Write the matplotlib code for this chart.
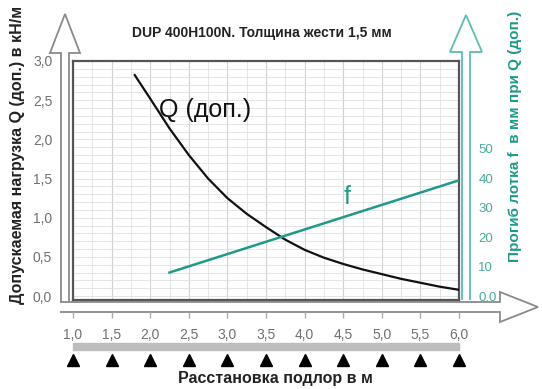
import numpy as np
import matplotlib.pyplot as plt
from matplotlib.patches import Polygon, Rectangle
from matplotlib.ticker import MultipleLocator

plt.rcParams['font.family'] = ['Liberation Sans', 'DejaVu Sans']

# data
span = [1.8, 2.0, 2.25, 2.5, 2.75, 3.0, 3.25, 3.5, 3.75, 4.0, 4.25, 4.5, 4.75,
        5.0, 5.25, 5.5, 5.75, 6.0]
q_load = [2.82, 2.52, 2.14, 1.80, 1.50, 1.25, 1.05, 0.88, 0.72, 0.59, 0.49, 0.41, 0.34,
          0.28, 0.22, 0.17, 0.12, 0.08]
f_span = [2.25, 6.0]
f_defl = [8.0, 39.3]

x_ticks = [1.0, 1.5, 2.0, 2.5, 3.0, 3.5, 4.0, 4.5, 5.0, 5.5, 6.0]
x_labels = ['1,0', '1,5', '2,0', '2,5', '3,0', '3,5', '4,0', '4,5', '5,0', '5,5', '6,0']
q_ticks = [0.0, 0.5, 1.0, 1.5, 2.0, 2.5, 3.0]
q_labels = ['0,0', '0,5', '1,0', '1,5', '2,0', '2,5', '3,0']
f_ticks = [0, 10, 20, 30, 40, 50]
f_labels = ['0,0', '10', '20', '30', '40', '50']

teal = '#1f9a88'
teal_light = '#5cbdb0'
W, H = 542, 389

fig = plt.figure(figsize=(W / 100, H / 100), dpi=100)

# overlay in pixel coordinates for the hollow arrows
ov = fig.add_axes([0, 0, 1, 1], zorder=0)
ov.set_xlim(0, W)
ov.set_ylim(H, 0)
ov.axis('off')

def arrow_up(cx, top, bottom, shaft, head, head_base, col):
    pts = [(cx - shaft, bottom), (cx - shaft, head_base), (cx - head, head_base),
           (cx, top), (cx + head, head_base), (cx + shaft, head_base), (cx + shaft, bottom)]
    ov.add_patch(Polygon(pts, closed=False, fill=False, edgecolor=col, lw=1.3))

arrow_up(65, 14, 302, 4, 15, 53, '#8a8a8a')
arrow_up(466, 15, 300, 4, 16, 52, teal_light)
hx = [(60, 302), (500, 302), (500, 292), (538, 307), (500, 322), (500, 312), (60, 312)]
ov.add_patch(Polygon(hx, closed=False, fill=False, edgecolor='#8a8a8a', lw=1.3))

# main plot box
ax = fig.add_axes([73 / W, 1 - 300 / H, (459 - 73) / W, 239 / H], zorder=2)
ax.set_facecolor('white')
ax.set_xlim(1.0, 6.0)
ax.set_ylim(-0.05, 3.0)
ax.xaxis.set_minor_locator(MultipleLocator(0.25))
ax.yaxis.set_minor_locator(MultipleLocator(0.1))
ax.grid(which='major', axis='x', color='#d2d2d2', lw=0.8)
ax.grid(which='minor', color='#e0e0e0', lw=0.6)
ax.grid(which='major', axis='y', color='#e0e0e0', lw=0.6)
ax.set_axisbelow(True)
for s in ax.spines.values():
    s.set_color('#555555')
    s.set_linewidth(1.6)

ax.plot(span, q_load, color='#111111', lw=1.6, zorder=3)
ax.text(2.12, 2.38, 'Q (доп.)', fontsize=18, color='#111111', va='center')

ax.set_xticks(x_ticks)
ax.set_xticklabels(x_labels)
ax.set_yticks(q_ticks)
ax.set_yticklabels(q_labels)
ax.tick_params(axis='x', which='both', length=0, pad=20, labelsize=10, labelcolor='#707070')
ax.tick_params(axis='y', which='both', length=0, pad=15, labelsize=10, labelcolor='#707070')

# small tick marks, grey bar and support triangles below the axis
ax.vlines(x_ticks, -0.075, -0.05, transform=ax.get_xaxis_transform(), color='#aaaaaa',
          lw=1, clip_on=False)
ax.add_patch(Rectangle((x_ticks[0], -0.21), x_ticks[-1] - x_ticks[0], 0.03,
                       transform=ax.get_xaxis_transform(), color='#bdbdbd', clip_on=False))
ax.plot(x_ticks, [-0.25] * len(x_ticks), '^', color='black', ms=8,
        transform=ax.get_xaxis_transform(), clip_on=False)

# right axis: deflection f
ax2 = ax.twinx()
ax2.set_ylim(-0.05 * 26.6, 3.0 * 26.6)
for s in ax2.spines.values():
    s.set_visible(False)
ax2.plot(f_span, f_defl, color=teal, lw=1.8)
ax2.text(4.5, 33.5, 'f', fontsize=18, color=teal, va='center')
ax2.set_yticks(f_ticks)
ax2.set_yticklabels(f_labels)
ax2.tick_params(axis='y', length=0, pad=14, labelsize=9.5, labelcolor='#4aa89a')

fig.text(262 / W, 1 - 33 / H, 'DUP 400H100N. Толщина жести 1,5 мм', ha='center',
         va='center', fontsize=10, fontweight='bold', color='#222222')
fig.text(18 / W, 1 - 155 / H, 'Допускаемая нагрузка Q (доп.) в кН/м', rotation=90,
         ha='center', va='center', fontsize=11.5, fontweight='bold', color='#222222')
fig.text(515 / W, 1 - 136 / H, 'Прогиб лотка f  в мм при Q (доп.)', rotation=90,
         ha='center', va='center', fontsize=11, fontweight='bold', color=teal)
fig.text(275 / W, 1 - 378 / H, 'Расстановка подлор в м', ha='center', va='center',
         fontsize=11.5, fontweight='bold', color='#222222')

fig.savefig('out.png', dpi=100, facecolor='white')
